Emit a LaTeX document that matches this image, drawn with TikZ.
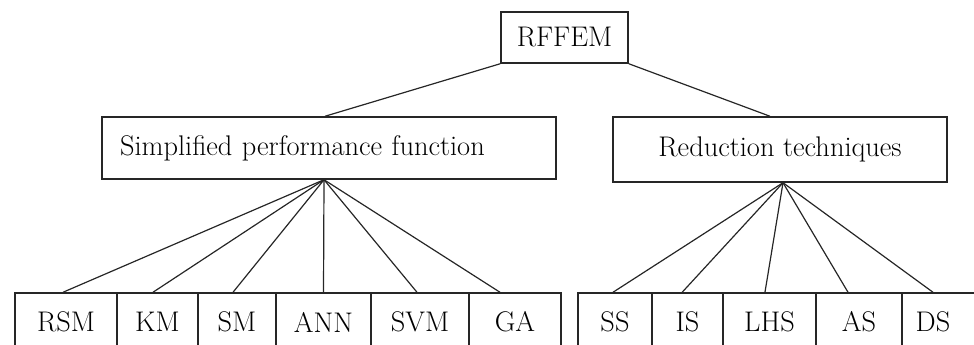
\documentclass[tikz,border=0pt]{standalone}
\usepackage{fontspec}
\begin{document}
\begin{tikzpicture}[x=0.75pt,y=-0.75pt,
  box/.style={draw=black!85, line width=1.1pt, rectangle, inner sep=0pt, font=\fontsize{21.3}{25}\selectfont},
  leaf/.style={box, minimum height=43.5pt},
  link/.style={draw=black!85, line width=0.9pt}]
\useasboundingbox (0,0) rectangle (974,345);
\clip (0,0) rectangle (974,345);
% top level
\node[box, minimum width=95.25pt, minimum height=38.25pt] (rffem) at (564.5,37.5) {RFFEM};
\node[box, minimum width=340.5pt, minimum height=46.5pt, text width=313.5pt, align=left, inner xsep=13.5pt] (simp) at (329,148) {Simplified performance function};
\node[box, minimum width=250.5pt, minimum height=48.75pt] (red) at (780,149.5) {Reduction techniques};
% left leaves: edges 15,117,198,276,371,469,561
\node[leaf, minimum width=76.5pt] (rsm) at (66,322) {RSM};
\node[leaf, minimum width=60.75pt] (km) at (157.5,322) {KM};
\node[leaf, minimum width=58.5pt] (sm) at (237,322) {SM};
\node[leaf, minimum width=71.25pt] (ann) at (323.5,322) {ANN};
\node[leaf, minimum width=73.5pt] (svm) at (420,322) {SVM};
\node[leaf, minimum width=69pt] (ga) at (515,322) {GA};
% right leaves: edges 578,652,723,816,902,990
\node[leaf, minimum width=55.5pt] (ss) at (615,322) {SS};
\node[leaf, minimum width=53.25pt] (is) at (687.5,322) {IS};
\node[leaf, minimum width=69.75pt] (lhs) at (769.5,322) {LHS};
\node[leaf, minimum width=64.5pt] (as) at (859,322) {AS};
\node[leaf, minimum width=66pt] (ds) at (946,322) {\hspace*{-19.5pt}DS};
% connectors
\draw[link] (rffem.south west) -- ([xshift=-3pt]simp.north);
\draw[link] (rffem.south east) -- ([xshift=-7.5pt]red.north);
\coordinate (sf) at ([xshift=-3.75pt]simp.south);
\draw[link] (sf) -- ([xshift=-2.25pt]rsm.north);
\draw[link] (sf) -- ([xshift=-3.4pt]km.north);
\draw[link] (sf) -- ([xshift=-3pt]sm.north);
\draw[link] (sf) -- (ann.north);
\draw[link] (sf) -- ([xshift=-2.25pt]svm.north);
\draw[link] (sf) -- ([xshift=-11.25pt]ga.north);
\coordinate (rf) at ([xshift=2.25pt]red.south);
\draw[link] (rf) -- ([xshift=-1.5pt]ss.north);
\draw[link] (rf) -- ([xshift=-4pt]is.north);
\draw[link] (rf) -- ([xshift=-3.4pt]lhs.north);
\draw[link] (rf) -- ([xshift=-8.25pt]as.north);
\draw[link] (rf) -- ([xshift=-9.75pt]ds.north);
\end{tikzpicture}
\end{document}
